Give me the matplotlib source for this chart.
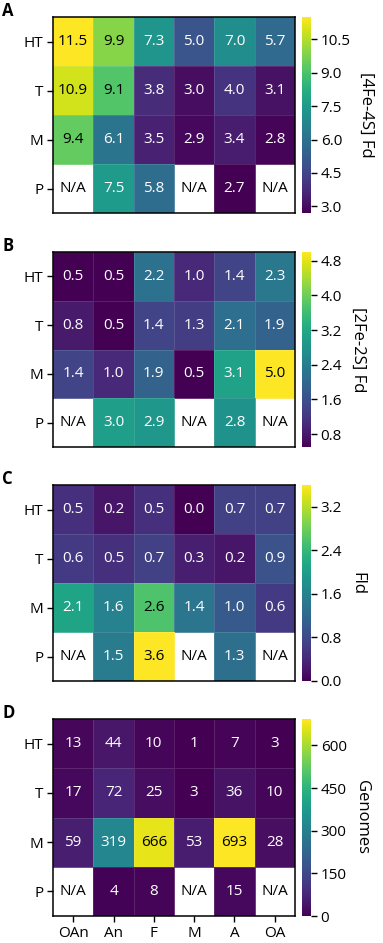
import numpy as np
import matplotlib
matplotlib.use("Agg")
import matplotlib.pyplot as plt

plt.rcParams['font.family'] = ['Open Sans', 'DejaVu Sans']

## data
rows = ["HT", "T", "M", "P"]
cols = ["OAn", "An", "F", "M", "A", "OA"]
nan = np.nan

fe4s = [[11.5, 9.9, 7.3, 5.0, 7.0, 5.7],
        [10.9, 9.1, 3.8, 3.0, 4.0, 3.1],
        [9.4, 6.1, 3.5, 2.9, 3.4, 2.8],
        [nan, 7.5, 5.8, nan, 2.7, nan]]
fe2s = [[0.5, 0.5, 2.2, 1.0, 1.4, 2.3],
        [0.8, 0.5, 1.4, 1.3, 2.1, 1.9],
        [1.4, 1.0, 1.9, 0.5, 3.1, 5.0],
        [nan, 3.0, 2.9, nan, 2.8, nan]]
fld = [[0.5, 0.2, 0.5, 0.0, 0.7, 0.7],
       [0.6, 0.5, 0.7, 0.3, 0.2, 0.9],
       [2.1, 1.6, 2.6, 1.4, 1.0, 0.6],
       [nan, 1.5, 3.6, nan, 1.3, nan]]
genomes = [[13, 44, 10, 1, 7, 3],
           [17, 72, 25, 3, 36, 10],
           [59, 319, 666, 53, 693, 28],
           [nan, 4, 8, nan, 15, nan]]

panels = [("A", fe4s, "[4Fe-4S] Fd", [3.0, 4.5, 6.0, 7.5, 9.0, 10.5], "{:.1f}"),
          ("B", fe2s, "[2Fe-2S] Fd", [0.8, 1.6, 2.4, 3.2, 4.0, 4.8], "{:.1f}"),
          ("C", fld, "Fld", [0.0, 0.8, 1.6, 2.4, 3.2], "{:.1f}"),
          ("D", genomes, "Genomes", [0, 150, 300, 450, 600], "{:.0f}")]

## layout (pixels -> figure fractions)
W, H = 383, 943
tops = [17, 252, 485, 719]
bots = [213, 447, 681, 916]
ax_l, ax_r = 53, 295
cb_l, cb_r = 302, 311
fs = 11

fig = plt.figure(figsize=(W / 100, H / 100), dpi=100)
cmap = plt.get_cmap("viridis")

for i, (letter, data, label, ticks, fmt) in enumerate(panels):
    arr = np.array(data, dtype=float)
    m = np.ma.masked_invalid(arr)
    vmin, vmax = np.nanmin(arr), np.nanmax(arr)

    ax = fig.add_axes([ax_l / W, 1 - bots[i] / H, (ax_r - ax_l) / W, (bots[i] - tops[i]) / H])
    cax = fig.add_axes([cb_l / W, 1 - bots[i] / H, (cb_r - cb_l) / W, (bots[i] - tops[i]) / H])

    ax.set_facecolor("white")
    mesh = ax.pcolormesh(m, cmap=cmap, vmin=vmin, vmax=vmax,
                         edgecolors=(1, 1, 1, 0.12), linewidth=0.6)
    ax.set_xlim(0, len(cols))
    ax.set_ylim(len(rows), 0)

    for r in range(len(rows)):
        for c in range(len(cols)):
            v = arr[r, c]
            if np.isnan(v):
                txt, col = "N/A", "black"
            else:
                txt = fmt.format(v)
                col = "black" if (v - vmin) / (vmax - vmin) > 0.65 else "white"
            ax.text(c + 0.5, r + 0.5, txt, ha="center", va="center",
                    fontsize=fs, color=col)

    ax.set_yticks(np.arange(len(rows)) + 0.5)
    ax.set_yticklabels(rows, fontsize=fs)
    ax.set_xticks(np.arange(len(cols)) + 0.5)
    if i == 3:
        ax.set_xticklabels(cols, fontsize=fs)
    else:
        ax.tick_params(axis="x", bottom=False, labelbottom=False)
    ax.tick_params(length=4, width=1, pad=3)
    for s in ax.spines.values():
        s.set_linewidth(1.1)

    cb = fig.colorbar(mesh, cax=cax)
    cb.set_ticks(ticks)
    cb.set_ticklabels([("{:.1f}" if i < 3 else "{:.0f}").format(t) for t in ticks])
    cb.ax.tick_params(labelsize=fs, length=4, width=1, pad=3)
    cb.outline.set_visible(False)
    cb.set_label(label, rotation=270, fontsize=12, labelpad=17)

    fig.text(2 / W, 1 - (tops[i] - 6) / H, letter, fontsize=12, fontweight="bold",
             ha="left", va="center")

fig.savefig("out.png", dpi=100)
